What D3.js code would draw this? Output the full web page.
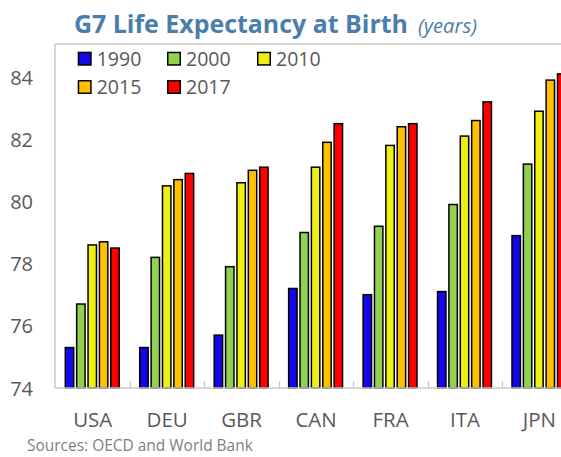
<!DOCTYPE html>
<html>
<head>
<meta charset="utf-8">
<script src="https://cdn.jsdelivr.net/npm/d3@7"></script>
<style>
  html, body { margin: 0; padding: 0; background: #fff; }
  svg { display: block; font-family: "Open Sans", "Noto Sans", sans-serif; }
</style>
</head>
<body>
<svg id="chart" width="561" height="457"></svg>
<script>
const countries = ["USA", "DEU", "GBR", "CAN", "FRA", "ITA", "JPN"];
const years = ["1990", "2000", "2010", "2015", "2017"];
const v1990 = [75.3, 75.3, 75.7, 77.2, 77.0, 77.1, 78.9];
const v2000 = [76.7, 78.2, 77.9, 79.0, 79.2, 79.9, 81.2];
const v2010 = [78.6, 80.5, 80.6, 81.1, 81.8, 82.1, 82.9];
const v2015 = [78.7, 80.7, 81.0, 81.9, 82.4, 82.6, 83.9];
const v2017 = [78.5, 80.9, 81.1, 82.5, 82.5, 83.2, 84.1];
const yTicks = [74, 76, 78, 80, 82, 84];
const colors = ["#1408e6", "#92d050", "#eef014", "#ffc000", "#ff0000"];
const seriesValues = [v1990, v2000, v2010, v2015, v2017];

const svg = d3.select("#chart");
const W = 561, H = 457;
const mLeft = 55, mTop = 44, mBottom = 388;
const step = 74.45;
const plotRight = mLeft + 0.5 + step * countries.length;

const x0 = d3.scaleBand().domain(countries).range([mLeft + 0.5, plotRight]).padding(0);
const x1 = d3.scaleBand().domain(years).range([9.8, 63.7]).paddingInner(0.26).paddingOuter(0);
const y = d3.scaleLinear().domain([74, 84]).range([mBottom, 77]);

function fitWidth(sel, base, target) {
  const w = sel.node().getComputedTextLength();
  sel.style("font-size", (base * target / w).toFixed(2) + "px");
}

// Title
const title = svg.append("text").attr("x", 74).attr("y", 33)
  .attr("fill", "#4a7eab").style("font-weight", "bold").style("font-size", "24px")
  .text("G7 Life Expectancy at Birth");
fitWidth(title, 24, 334);
const sub = svg.append("text").attr("x", 418).attr("y", 33)
  .attr("fill", "#4a7eab").style("font-style", "italic").style("font-size", "18px")
  .text("(years)");
fitWidth(sub, 18, 59);

// Frame: top and left border
svg.append("line").attr("x1", mLeft).attr("x2", W).attr("y1", mTop).attr("y2", mTop)
  .attr("stroke", "#c8c8c8").attr("stroke-width", 1.5);
svg.append("line").attr("x1", mLeft).attr("x2", mLeft).attr("y1", mTop).attr("y2", mBottom)
  .attr("stroke", "#c8c8c8").attr("stroke-width", 1.5);

// Y axis labels
const yAxis = d3.axisLeft(y).tickValues(yTicks).tickSize(0).tickPadding(0).tickFormat(d3.format("d"));
const yg = svg.append("g").attr("transform", `translate(33,0)`).call(yAxis);
yg.select(".domain").remove();
yg.selectAll("text").attr("fill", "#595959").style("font-size", "20px")
  .style("font-family", '"Open Sans", sans-serif').attr("dy", "0.35em");

// Bars
const groups = svg.append("g").selectAll("g").data(countries).join("g")
  .attr("transform", d => `translate(${x0(d)},0)`);
groups.selectAll("rect")
  .data((c, i) => years.map((yr, k) => ({ yr, k, v: seriesValues[k][i] })))
  .join("rect")
  .attr("x", d => x1(d.yr))
  .attr("width", x1.bandwidth())
  .attr("y", d => y(d.v))
  .attr("height", d => y(74) - y(d.v))
  .attr("fill", d => colors[d.k])
  .attr("stroke", "#000").attr("stroke-width", 1.5);

// X axis
const xAxis = d3.axisBottom(x0).tickSize(0).tickPadding(0);
const xg = svg.append("g").attr("transform", `translate(0,${mBottom})`).call(xAxis);
xg.select(".domain").remove();
xg.selectAll("text").attr("fill", "#595959").style("font-size", "20.5px")
  .style("font-family", '"Open Sans", sans-serif').attr("y", 39).attr("dy", 0);
svg.append("line").attr("x1", mLeft).attr("x2", W).attr("y1", mBottom).attr("y2", mBottom)
  .attr("stroke", "#c8c8c8").attr("stroke-width", 1.5);
// Inner tick marks at band boundaries
svg.append("g").selectAll("line").data(countries.slice(1)).join("line")
  .attr("x1", d => Math.round(x0(d)) + 0.5).attr("x2", d => Math.round(x0(d)) + 0.5)
  .attr("y1", mBottom - 7).attr("y2", mBottom)
  .attr("stroke", "#c8c8c8").attr("stroke-width", 1.2);

// Legend
const legendPos = [[77.7, 51.7], [167, 51.7], [257, 51.7], [77.7, 80], [167, 80]];
const lg = svg.append("g").selectAll("g").data(years).join("g")
  .attr("transform", (d, i) => `translate(${legendPos[i][0]},${legendPos[i][1]})`);
lg.append("rect").attr("x", 0.75).attr("y", 0.75).attr("width", 12.5).attr("height", 12.5)
  .attr("fill", (d, i) => colors[i]).attr("stroke", "#000").attr("stroke-width", 1.5);
lg.append("text").attr("x", 19).attr("y", 7).attr("dy", "0.36em")
  .attr("fill", "#595959").style("font-size", "19.5px").text(d => d);

// Source
const src = svg.append("text").attr("x", 27).attr("y", 451)
  .attr("fill", "#7f7f7f").style("font-size", "16px")
  .text("Sources: OECD and World Bank");
fitWidth(src, 16, 226);
</script>
</body>
</html>
